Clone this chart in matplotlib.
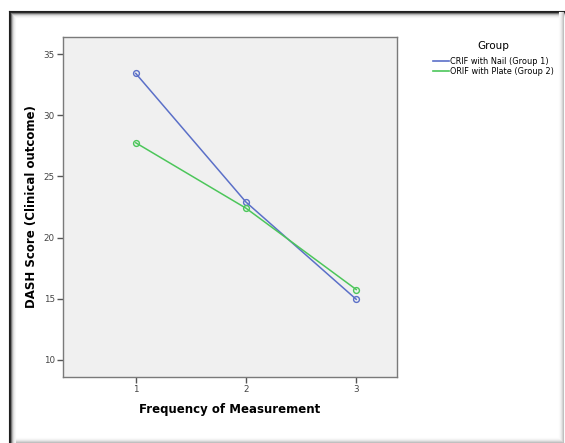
#!/usr/bin/env python3
"""DASH score over measurements, CRIF nail vs ORIF plate (SPSS-style line chart)."""
import matplotlib
matplotlib.use("Agg")
import matplotlib.pyplot as plt
from matplotlib.lines import Line2D

measurements = [1, 2, 3]
nail_dash = [33.42, 22.9, 14.95]
plate_dash = [27.75, 22.4, 15.75]
group_labels = ["CRIF with Nail (Group 1)", "ORIF with Plate (Group 2)"]
yticks = [10, 15, 20, 25, 30, 35]

BLUE = "#5b70c8"
GREEN = "#4cc65a"


def draw_frame(fig):
    W, H = 565.0, 443.0
    # dark top/left edge with short inner shadow
    greys = [0.12, 0.15, 0.45, 0.7, 0.85, 0.93, 0.97]
    for i, g in enumerate(greys):
        c = (g, g, g)
        x = (8.5 + i) / W
        y = 1 - (10.5 + i) / H
        fig.add_artist(Line2D([x, x], [0, y], transform=fig.transFigure, color=c, lw=0.8))
        fig.add_artist(Line2D([x, 1], [y, y], transform=fig.transFigure, color=c, lw=0.8))
    # faint right/bottom edge
    for i, g in enumerate([0.75, 0.83, 0.9, 0.95, 0.98]):
        c = (g, g, g)
        x = (562.5 - i) / W
        y = (1.5 + i) / H
        fig.add_artist(Line2D([x, x], [y, 1 - 12 / H], transform=fig.transFigure, color=c, lw=0.8))
        fig.add_artist(Line2D([16 / W, x], [y, y], transform=fig.transFigure, color=c, lw=0.8))


def main():
    fig = plt.figure(figsize=(5.65, 4.43), dpi=100)
    fig.patch.set_facecolor("white")
    ax = fig.add_axes([0.1115, 0.149, 0.5912, 0.7675])
    ax.set_facecolor("#f0f0f0")

    for vals, color, label in [(nail_dash, BLUE, group_labels[0]),
                               (plate_dash, GREEN, group_labels[1])]:
        ax.plot(measurements, vals, color=color, lw=1.1, marker="o", ms=4.2,
                mfc="none", mec=color, mew=1.0, label=label)

    ax.set_xlim(0.34, 3.37)
    ax.set_ylim(8.6, 36.4)
    ax.set_xticks(measurements)
    ax.set_yticks(yticks)
    for s in ax.spines.values():
        s.set_color("#7a7a7a")
        s.set_linewidth(1.0)
    ax.tick_params(direction="out", length=4, width=1, color="#555555",
                   labelsize=6.3, labelcolor="#444444", pad=2)

    ax.set_xlabel("Frequency of Measurement", fontsize=8.5, fontweight="bold", labelpad=6)
    ax.set_ylabel("DASH Score (Clinical outcome)", fontsize=8.5, fontweight="bold", labelpad=4)

    handles = [Line2D([0], [0], color=BLUE, lw=1.2), Line2D([0], [0], color=GREEN, lw=1.2)]
    leg = fig.legend(handles, group_labels, loc="upper left", bbox_to_anchor=(0.759, 0.917),
                     frameon=False, fontsize=5.9, title="Group", title_fontsize=7.5,
                     handlelength=1.9, handletextpad=0.2, labelspacing=0.15, borderpad=0)
    leg._legend_box.align = "center"
    leg._legend_box.sep = 4.5

    draw_frame(fig)
    fig.savefig("out.png", dpi=100, facecolor="white")
    plt.close(fig)


if __name__ == "__main__":
    main()
